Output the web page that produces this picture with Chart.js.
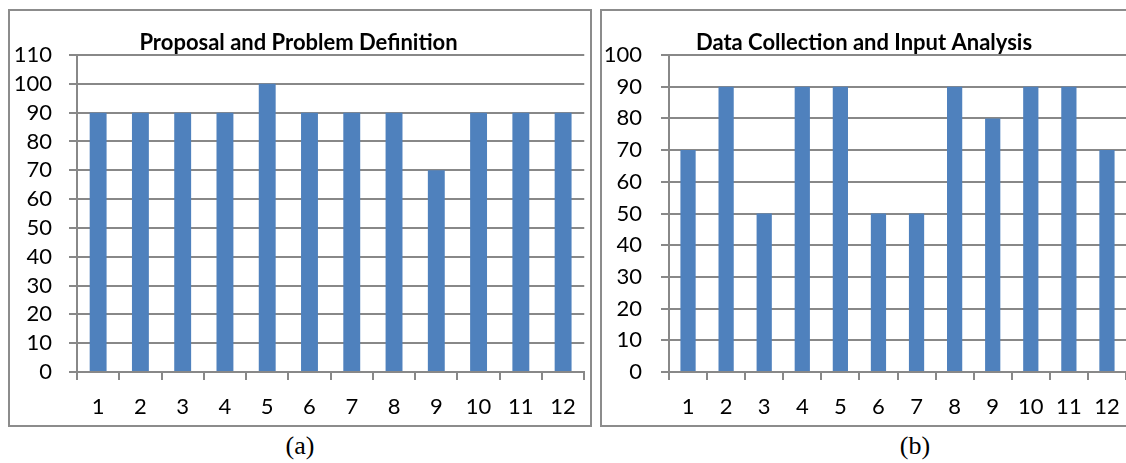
<!DOCTYPE html>
<html>
<head>
<meta charset="utf-8">
<script src="https://cdn.jsdelivr.net/npm/chart.js@4.4.0/dist/chart.umd.min.js"></script>
<style>
	html, body { margin: 0; padding: 0; background: #fff; }
	body { width: 1126px; height: 463px; position: relative; overflow: hidden; }
	.box { position: absolute; border: 2px solid #8c8c8c; box-sizing: border-box; background: #fff; }
	.box canvas { display: block; }
	.cap { position: absolute; font-family: "Liberation Serif", "Times New Roman", serif; font-size: 26px; color: #000; width: 100px; text-align: center; }
</style>
</head>
<body>
<div class="box" id="boxA" style="left:8px; top:9px; width:584px; height:418px;">
	<canvas id="chartA" width="580" height="414"></canvas>
</div>
<div class="box" id="boxB" style="left:600px; top:9px; width:540px; height:418px;">
	<canvas id="chartB" width="536" height="414"></canvas>
</div>
<div class="cap" style="left:250px; top:431px;">(a)</div>
<div class="cap" style="left:865px; top:431px;">(b)</div>

<script>
var categories = ['1', '2', '3', '4', '5', '6', '7', '8', '9', '10', '11', '12'];
var proposalValues = [90, 90, 90, 90, 100, 90, 90, 90, 70, 90, 90, 90];
var collectionValues = [70, 90, 50, 90, 90, 50, 50, 90, 80, 90, 90, 70];
var proposalTitle = 'Proposal and Problem Definition';
var collectionTitle = 'Data Collection and Input Analysis';

var barColor = '#4f81bd';
var gridColor = '#888888';
var fontFamily = 'Lato, "Open Sans", sans-serif';

function makeChart(canvasId, title, values, yMax, labelPad, rightPad) {
	var ctx = document.getElementById(canvasId).getContext('2d');
	return new Chart(ctx, {
		type: 'bar',
		data: {
			labels: categories,
			datasets: [{
				label: title,
				data: values,
				backgroundColor: barColor,
				borderWidth: 0,
				categoryPercentage: 1,
				barPercentage: 0.4
			}]
		},
		options: {
			responsive: false,
			animation: false,
			layout: {
				padding: { left: 0, right: rightPad, top: 0, bottom: 0 }
			},
			plugins: {
				legend: { display: false },
				tooltip: { enabled: false },
				title: {
					display: true,
					text: title,
					color: '#000',
					font: { family: fontFamily, size: 22, weight: 'bold', lineHeight: 1 },
					padding: { top: 21, bottom: 1 }
				}
			},
			scales: {
				x: {
					grid: {
						drawOnChartArea: false,
						drawTicks: true,
						tickLength: 8,
						color: gridColor,
						lineWidth: 2
					},
					border: { color: gridColor, width: 2 },
					ticks: {
						color: '#000',
						padding: 14,
						maxRotation: 0,
						autoSkip: false,
						font: { family: fontFamily, size: 22 }
					},
					afterFit: function(scale) { scale.height = 53; }
				},
				y: {
					min: 0,
					max: yMax,
					grid: {
						color: gridColor,
						lineWidth: 2,
						tickLength: 8
					},
					border: { color: gridColor, width: 2 },
					ticks: {
						stepSize: 10,
						autoSkip: false,
						color: '#000',
						padding: labelPad,
						font: { family: fontFamily, size: 22 }
					},
					afterFit: function(scale) { scale.width = 67; }
				}
			}
		}
	});
}

makeChart('chartA', proposalTitle, proposalValues, 110, 17, 3);
makeChart('chartB', collectionTitle, collectionValues, 100, 19, 12);
</script>
</body>
</html>
